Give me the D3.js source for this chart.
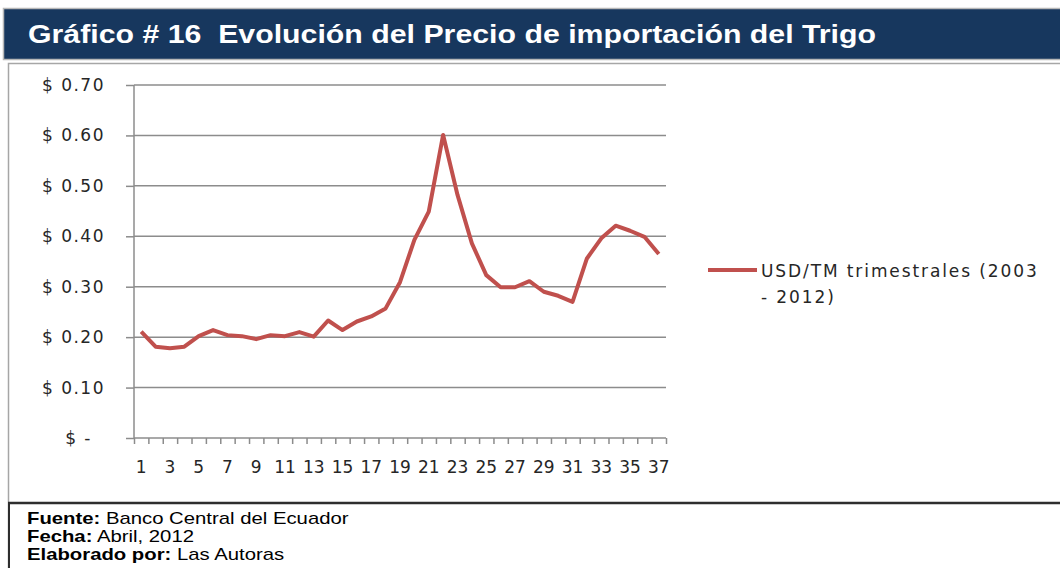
<!DOCTYPE html>
<html>
<head>
<meta charset="utf-8">
<script src="https://cdn.jsdelivr.net/npm/d3@7"></script>
<style>
  body { margin: 0; background: #fff; }
  svg { display: block; }
  .axis path { display: none; }
  .axis line { stroke: #8c8c8c; stroke-width: 1.5; }
  .axis text { font-family: "DejaVu Sans", sans-serif; font-size: 17px; fill: #262626; }
  .ylab text { letter-spacing: 1.5px; }
</style>
</head>
<body>
<div id="chart"></div>
<script>
// Trimestres 1..37 (2003 - 2012), precio USD/TM
var quarters = d3.range(1, 38);
var prices = [0.211, 0.181, 0.178, 0.181, 0.202, 0.214, 0.204, 0.202, 0.196, 0.204,
              0.202, 0.210, 0.201, 0.233, 0.214, 0.231, 0.241, 0.257, 0.309, 0.393,
              0.449, 0.601, 0.482, 0.386, 0.323, 0.299, 0.299, 0.311, 0.290, 0.282,
              0.270, 0.356, 0.396, 0.421, 0.411, 0.399, 0.365];
var yTicks = [0, 0.1, 0.2, 0.3, 0.4, 0.5, 0.6, 0.7];
var xLabels = quarters.filter(function(d) { return d % 2 === 1; });
var titleText = "Gráfico # 16  Evolución del Precio de importación del Trigo";
var seriesName = ["USD/TM trimestrales (2003", "- 2012)"];
var footer = [["Fuente:", " Banco Central del Ecuador"],
              ["Fecha:", " Abril, 2012"],
              ["Elaborado por:", " Las Autoras"]];

var W = 1060, H = 568;
var plot = {left: 134, right: 666, top: 85, bottom: 438};

var svg = d3.select("#chart").append("svg")
    .attr("width", W)
    .attr("height", H);

// Title bar
svg.append("rect")
    .attr("x", 3.5).attr("y", 8.5)
    .attr("width", W).attr("height", 51)
    .attr("fill", "#17375e")
    .attr("stroke", "#b8b8b8").attr("stroke-width", 1.5);

svg.append("text")
    .attr("x", 28).attr("y", 43)
    .attr("textLength", 848)
    .attr("lengthAdjust", "spacingAndGlyphs")
    .style("font-family", "'Liberation Sans', Arial, sans-serif")
    .style("font-weight", "bold")
    .style("font-size", "26px")
    .style("fill", "#fff")
    .style("white-space", "pre")
    .text(titleText);

// Chart frame
svg.append("path")
    .attr("d", "M8.5," + (H) + "V63.5H" + W)
    .attr("fill", "none")
    .attr("stroke", "#a6a6a6").attr("stroke-width", 1.5);

// Separator and footer frame
svg.append("line")
    .attr("x1", 8).attr("x2", W)
    .attr("y1", 503).attr("y2", 503)
    .attr("stroke", "#2e2e2e").attr("stroke-width", 2.5);
svg.append("line")
    .attr("x1", 9).attr("x2", 9)
    .attr("y1", 503).attr("y2", H)
    .attr("stroke", "#2e2e2e").attr("stroke-width", 2);

// Scales
var x = d3.scaleBand().domain(quarters).range([plot.left, plot.right]);
var xEdge = d3.scaleLinear().domain([0.5, 37.5]).range([plot.left, plot.right]);
var y = d3.scaleLinear().domain([0, 0.7]).range([plot.bottom, plot.top]);

// Gridlines
svg.append("g")
    .selectAll("line")
    .data(yTicks.slice(1))
    .enter().append("line")
    .attr("x1", plot.left).attr("x2", plot.right)
    .attr("y1", function(d) { return y(d); })
    .attr("y2", function(d) { return y(d); })
    .attr("stroke", "#8c8c8c").attr("stroke-width", 1.5);

// Y axis
var yAxis = d3.axisLeft(y)
    .tickValues(yTicks)
    .tickSize(8)
    .tickPadding(21)
    .tickFormat(function(d) { return d === 0 ? "$ -" : "$ " + d.toFixed(2); });
var yg = svg.append("g")
    .attr("class", "axis ylab")
    .attr("transform", "translate(" + plot.left + ",0)")
    .call(yAxis);
// Excel leaves trailing room after the dash label
yg.selectAll(".tick text").filter(function(d) { return d === 0; }).attr("dx", -13);
svg.append("line")
    .attr("x1", plot.left).attr("x2", plot.left)
    .attr("y1", plot.top).attr("y2", plot.bottom)
    .attr("stroke", "#8c8c8c").attr("stroke-width", 1.5);

// X axis: tick marks on category edges, labels on odd quarters
var xTicks = d3.axisBottom(xEdge)
    .tickValues(d3.range(0.5, 38, 1))
    .tickSize(6)
    .tickFormat("");
svg.append("g")
    .attr("class", "axis")
    .attr("transform", "translate(0," + plot.bottom + ")")
    .call(xTicks);
svg.append("line")
    .attr("x1", plot.left).attr("x2", plot.right)
    .attr("y1", plot.bottom).attr("y2", plot.bottom)
    .attr("stroke", "#8c8c8c").attr("stroke-width", 1.5);

var xAxis = d3.axisBottom(x)
    .tickValues(xLabels)
    .tickSize(0)
    .tickPadding(23);
svg.append("g")
    .attr("class", "axis xlab")
    .attr("transform", "translate(0," + plot.bottom + ")")
    .call(xAxis);

// Price line
var line = d3.line()
    .x(function(d, i) { return x(quarters[i]) + x.bandwidth() / 2; })
    .y(function(d) { return y(d); });
svg.append("path")
    .datum(prices)
    .attr("d", line)
    .attr("fill", "none")
    .attr("stroke", "#c0504d")
    .attr("stroke-width", 4)
    .attr("stroke-linejoin", "round");

// Legend
var legend = svg.append("g").attr("transform", "translate(708,270)");
legend.append("line")
    .attr("x1", 0).attr("x2", 49)
    .attr("stroke", "#c0504d").attr("stroke-width", 4);
legend.selectAll("text")
    .data(seriesName)
    .enter().append("text")
    .attr("x", 53)
    .attr("y", function(d, i) { return 7 + i * 26; })
    .style("font-family", "'DejaVu Sans', sans-serif")
    .style("font-size", "17px")
    .style("letter-spacing", "1.9px")
    .style("fill", "#262626")
    .text(function(d) { return d; });

// Footer
var foot = svg.append("g")
    .attr("transform", "translate(27,0) scale(1.27,1)")
    .style("font-family", "'Liberation Sans', Arial, sans-serif")
    .style("font-size", "16px")
    .style("fill", "#000");
footer.forEach(function(f, i) {
  var t = foot.append("text").attr("x", 0).attr("y", 524 + i * 18);
  t.append("tspan").style("font-weight", "bold").text(f[0]);
  t.append("tspan").text(f[1]);
});
</script>
</body>
</html>
